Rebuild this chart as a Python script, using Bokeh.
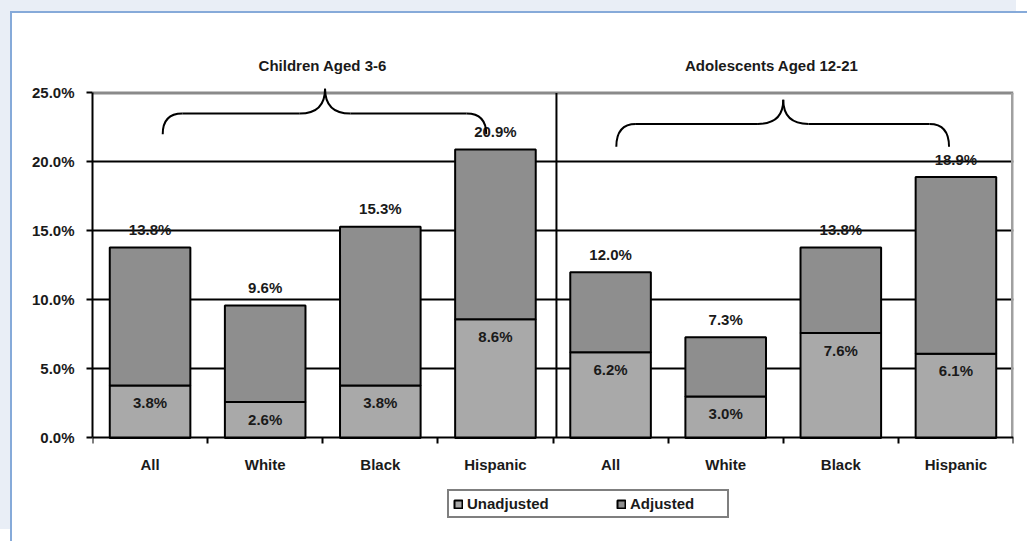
from bokeh.plotting import figure
from bokeh.models import (ColumnDataSource, FixedTicker, PrintfTickFormatter,
                          Legend, LegendItem, Range1d)
from bokeh.core.properties import value
from bokeh.embed import file_html
from bokeh.resources import INLINE

# ---------------- data ----------------
groups = ["Children Aged 3-6", "Adolescents Aged 12-21"]
categories = ["All", "White", "Black", "Hispanic", "All", "White", "Black", "Hispanic"]
unadjusted = [3.8, 2.6, 3.8, 8.6, 6.2, 3.0, 7.6, 6.1]
adjusted = [13.8, 9.6, 15.3, 20.9, 12.0, 7.3, 13.8, 18.9]
y_ticks = [0, 5, 10, 15, 20, 25]

FONT = value("Liberation Sans")
LIGHT = "#a9a9a9"
DARK = "#8e8e8e"

xc = [i + 0.5 for i in range(len(categories))]
src = ColumnDataSource(dict(
    x=xc, cat=categories, unadj=unadjusted, adj=adjusted,
    unadj_lbl=["%.1f%%" % v for v in unadjusted],
    adj_lbl=["%.1f%%" % v for v in adjusted],
))

p = figure(width=1017, height=530, x_range=Range1d(0, len(categories)),
           y_range=Range1d(-7.07, 28), output_backend="svg", toolbar_location=None,
           min_border_left=80, min_border_right=16, min_border_top=38,
           min_border_bottom=8)
p.outline_line_color = None
p.background_fill_color = "white"
p.border_fill_color = "white"
p.styles = {"margin-left": "10px", "margin-top": "11px",
            "border-left": "2px solid #86aad9", "border-top": "2px solid #86aad9",
            "box-shadow": "-11px -12px 0 0 #e9eef6"}

# grid
p.xgrid.visible = False
p.ygrid.ticker = FixedTicker(ticks=[5, 10, 15, 20])
p.ygrid.grid_line_color = "black"
p.ygrid.grid_line_width = 2

# top & right border of plot area, divider between groups
p.segment(x0=[0], y0=[25], x1=[len(categories)], y1=[25], line_color="#8a8a8a", line_width=3)
p.segment(x0=[len(categories)], y0=[0], x1=[len(categories)], y1=[25], line_color="#a0a0a0", line_width=5)
p.segment(x0=[4.03], y0=[0], x1=[4.03], y1=[25], line_color="black", line_width=2)

# bars
r_un = p.vbar(x="x", bottom=0, top="unadj", width=0.70, source=src,
              fill_color=LIGHT, line_color="black", line_width=2)
r_ad = p.vbar(x="x", bottom="unadj", top="adj", width=0.70, source=src,
              fill_color=DARK, line_color="black", line_width=2)

# value labels
p.text(x="x", y="unadj", text="unadj_lbl", source=src, y_offset=17,
       text_align="center", text_baseline="middle", text_font=FONT,
       text_font_style="bold", text_font_size="15px", text_color="#1a1a1a")
p.text(x="x", y="adj", text="adj_lbl", source=src, y_offset=-18,
       text_align="center", text_baseline="middle", text_font=FONT,
       text_font_style="bold", text_font_size="15px", text_color="#1a1a1a")

# group titles
p.text(x=[2.0, 5.9], y=[27.0, 27.0], text=groups, text_align="center",
       text_baseline="middle", text_font=FONT, text_font_style="bold",
       text_font_size="15px", text_color="#1a1a1a")

# curly braces
def brace(x0, x1, xt, ye, yh, yt, r, s):
    qx0, qy0, qx1, qy1, qcx, qcy = [], [], [], [], [], []
    qx0.append(x0); qy0.append(ye); qx1.append(x0 + r); qy1.append(yh); qcx.append(x0); qcy.append(yh)
    qx0.append(xt - s); qy0.append(yh); qx1.append(xt); qy1.append(yt); qcx.append(xt); qcy.append(yh)
    qx0.append(xt); qy0.append(yt); qx1.append(xt + s); qy1.append(yh); qcx.append(xt); qcy.append(yh)
    qx0.append(x1 - r); qy0.append(yh); qx1.append(x1); qy1.append(ye); qcx.append(x1); qcy.append(yh)
    p.quadratic(x0=qx0, y0=qy0, x1=qx1, y1=qy1, cx=qcx, cy=qcy, line_color="black", line_width=2)
    p.segment(x0=[x0 + r, xt + s], y0=[yh, yh], x1=[xt - s, x1 - r], y1=[yh, yh],
              line_color="black", line_width=2)

brace(0.61, 3.42, 2.02, 22.0, 23.5, 25.3, 0.17, 0.22)
brace(4.55, 7.44, 6.0, 21.1, 22.75, 24.5, 0.17, 0.22)

# y axis
ya = p.yaxis[0]
ya.ticker = FixedTicker(ticks=y_ticks)
ya.formatter = PrintfTickFormatter(format="%.1f%%")
ya.bounds = (0, 25)
ya.axis_line_color = "black"
ya.axis_line_width = 2
ya.major_tick_line_color = "black"
ya.major_tick_line_width = 2
ya.major_tick_out = 6
ya.major_tick_in = 0
ya.minor_tick_line_color = None
ya.major_label_text_font = "Liberation Sans"
ya.major_label_text_font_style = "bold"
ya.major_label_text_font_size = "15px"
ya.major_label_text_color = "#1a1a1a"
ya.major_label_standoff = 12

# x axis, drawn at y = 0 inside the frame
xa = p.xaxis[0]
xa.fixed_location = 0
xa.ticker = FixedTicker(ticks=xc, minor_ticks=list(range(len(categories) + 1)))
xa.major_label_overrides = {t: c for t, c in zip(xc, categories)}
xa.axis_line_color = "black"
xa.axis_line_width = 2
xa.major_tick_line_color = None
xa.major_tick_out = 6
xa.major_tick_in = 0
xa.minor_tick_line_color = "black"
xa.minor_tick_line_width = 2
xa.minor_tick_out = 6
xa.minor_tick_in = 0
xa.major_label_text_font = "Liberation Sans"
xa.major_label_text_font_style = "bold"
xa.major_label_text_font_size = "15px"
xa.major_label_text_color = "#1a1a1a"
xa.major_label_standoff = 12

# legend (screen units from the frame's bottom-left)
legend = Legend(items=[LegendItem(label="Unadjusted", renderers=[r_un]),
                       LegendItem(label="Adjusted", renderers=[r_ad])],
                orientation="horizontal", location=(355, 17),
                border_line_color="black", border_line_width=2,
                glyph_width=10, glyph_height=10, label_height=16,
                label_width=93, spacing=56, padding=4, margin=0,
                label_standoff=4,
                label_text_font="Liberation Sans", label_text_font_style="bold",
                label_text_font_size="15px", label_text_color="#1a1a1a",
                background_fill_color="white")
p.add_layout(legend, "center")

open("out.html", "w").write(file_html(p, INLINE))
